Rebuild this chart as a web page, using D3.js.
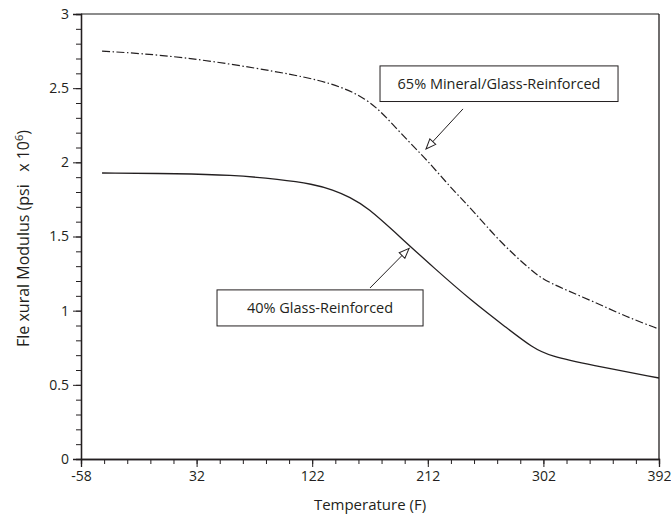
<!DOCTYPE html>
<html><head><meta charset="utf-8">
<script src="https://cdn.jsdelivr.net/npm/d3@7"></script>
<style>
body{margin:0;background:#fff;}
text{font-family:"Open Sans",sans-serif;fill:#231f20;}
</style></head>
<body><svg id="c" width="671" height="519"></svg>
<script>
// Data (Temperature °F, Flexural modulus psi x 10^6)
const glass40Temp = [-41.6, 19.1, 58.0, 96.9, 122.6, 138.2, 151.4, 164.7, 190.4, 216.0, 247.2, 273.6, 293.9, 307.1, 338.3, 392];
const glass40Val  = [1.928, 1.924, 1.915, 1.886, 1.853, 1.815, 1.765, 1.699, 1.497, 1.294, 1.058, 0.883, 0.748, 0.694, 0.634, 0.546];
const mineral65Temp = [-41.6, 19.1, 96.9, 138.2, 164.7, 180.2, 198.1, 211.4, 229.3, 247.2, 268.2, 293.9, 304.8, 338.3, 367.1, 392];
const mineral65Val  = [2.75, 2.717, 2.61, 2.535, 2.43, 2.30, 2.13, 2.016, 1.834, 1.675, 1.463, 1.26, 1.193, 1.072, 0.957, 0.876];
const xTickLabels = [-58, 32, 122, 212, 302, 392];
const yTickLabels = [0, 0.5, 1, 1.5, 2, 2.5, 3];
const seriesNames = ["65% Mineral/Glass-Reinforced", "40% Glass-Reinforced"];

const svg = d3.select("#c");
const m = {l:81, r:12, t:14, b:60};
const W = 671, H = 519;
const x = d3.scaleLinear().domain([-58, 392]).range([m.l, W - m.r]);
const y = d3.scaleLinear().domain([0, 3]).range([H - m.b, m.t]);
const ink = "#231f20";

// frame top & right
svg.append("line").attr("x1", x(-58)).attr("x2", x(392)).attr("y1", y(3)).attr("y2", y(3)).attr("stroke", "#666").attr("stroke-width", 1.5);
svg.append("line").attr("x1", x(392)).attr("x2", x(392)).attr("y1", y(3)).attr("y2", y(0)).attr("stroke", ink).attr("stroke-width", 1.3);

// ticks
const xMinor = d3.range(-58, 392.1, 18);
const yMinor = d3.range(0, 3.001, 0.1);
svg.append("g").attr("transform", `translate(0,${y(0)})`)
  .call(d3.axisBottom(x).tickValues(xMinor).tickSize(5).tickFormat(""));
svg.append("g").attr("transform", `translate(0,${y(0)})`)
  .call(d3.axisBottom(x).tickValues(xTickLabels).tickSize(8).tickPadding(4).tickFormat(d => String(d)));
svg.append("g").attr("transform", `translate(${x(-58)},0)`)
  .call(d3.axisLeft(y).tickValues(yMinor).tickSize(5).tickFormat(""));
svg.append("g").attr("transform", `translate(${x(-58)},0)`)
  .call(d3.axisLeft(y).tickValues(yTickLabels).tickSize(8).tickPadding(4).tickFormat(d => String(d)));
svg.selectAll(".domain").attr("stroke", ink).attr("stroke-width", 1.3);
svg.selectAll(".tick line").attr("stroke", ink).attr("stroke-width", 1);
svg.selectAll(".tick text").attr("font-size", 14).attr("font-family", "Open Sans").attr("fill", ink);

// axis titles
svg.append("text").attr("x", (x(-58) + x(392)) / 2).attr("y", 510).attr("text-anchor", "middle").attr("font-size", 15).text("Temperature (F)");
const yt = svg.append("text").attr("transform", `translate(29,${(y(0)+y(3))/2 + 2}) rotate(-90)`).attr("text-anchor", "middle").attr("font-size", 16).attr("xml:space", "preserve");
yt.append("tspan").text("Fle xural Modulus (psi   x 10");
yt.append("tspan").attr("font-size", 11).attr("dy", -6).text("6");
yt.append("tspan").attr("dy", 6).text(")");

// lines
const line = d3.line().x(d => x(d[0])).y(d => y(d[1])).curve(d3.curveBasis);
svg.append("path").datum(d3.zip(glass40Temp, glass40Val)).attr("d", line).attr("fill", "none").attr("stroke", ink).attr("stroke-width", 1.3);
svg.append("path").datum(d3.zip(mineral65Temp, mineral65Val)).attr("d", line).attr("fill", "none").attr("stroke", ink).attr("stroke-width", 1.2).attr("stroke-dasharray", "8,2.5,1.5,2.5");

// arrow marker
svg.append("defs").append("marker").attr("id", "ah").attr("viewBox", "0 0 12 10").attr("refX", 11).attr("refY", 5)
  .attr("markerWidth", 12).attr("markerHeight", 10).attr("markerUnits", "userSpaceOnUse").attr("orient", "auto")
  .append("path").attr("d", "M1,1 L11,5 L1,9 Z").attr("fill", "#fff").attr("stroke", ink).attr("stroke-width", 1);

// annotations
const notes = [
  {name: seriesNames[0], bx: [174.8, 360.1], by: [2.65, 2.41], tail: [239.4, 2.36], tip: [210.6, 2.09]},
  {name: seriesNames[1], bx: [47.9, 208.3], by: [1.14, 0.897], tail: [167, 1.153], tip: [197.4, 1.42]}
];
notes.forEach(n => {
  svg.append("rect").attr("x", x(n.bx[0])).attr("y", y(n.by[0])).attr("width", x(n.bx[1]) - x(n.bx[0])).attr("height", y(n.by[1]) - y(n.by[0]))
    .attr("fill", "#fff").attr("stroke", ink).attr("stroke-width", 1);
  svg.append("text").attr("x", (x(n.bx[0]) + x(n.bx[1])) / 2).attr("y", (y(n.by[0]) + y(n.by[1])) / 2 + 5)
    .attr("text-anchor", "middle").attr("font-size", 14.5).text(n.name);
  svg.append("line").attr("x1", x(n.tail[0])).attr("y1", y(n.tail[1])).attr("x2", x(n.tip[0])).attr("y2", y(n.tip[1]))
    .attr("stroke", ink).attr("stroke-width", 1).attr("marker-end", "url(#ah)");
});
</script></body></html>
